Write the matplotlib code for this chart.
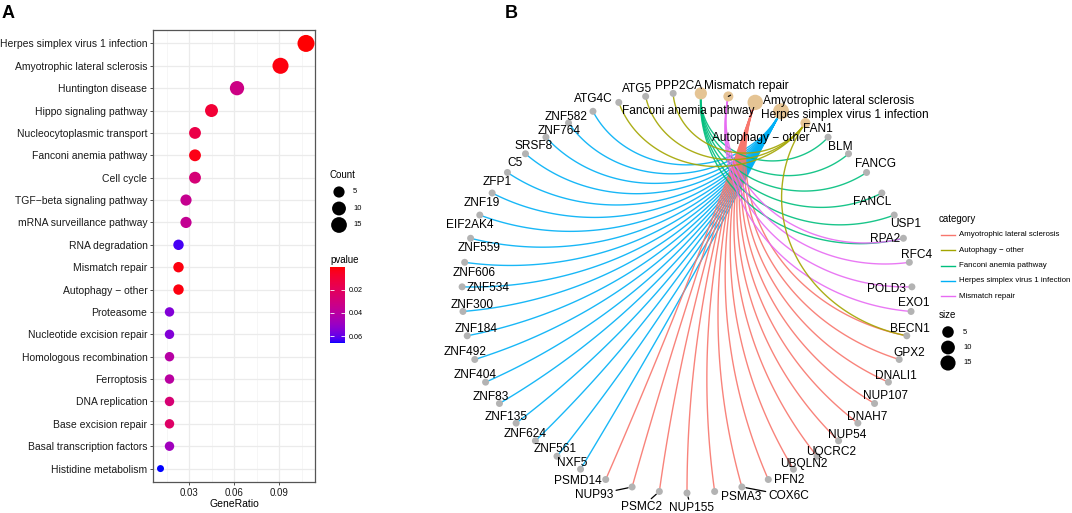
import numpy as np
import matplotlib
matplotlib.use('Agg')
import matplotlib.pyplot as plt
from matplotlib.colors import ListedColormap, Normalize
from matplotlib.cm import ScalarMappable

plt.rcParams['font.family'] = ['Liberation Sans', 'DejaVu Sans']

## panel A: KEGG enrichment dot plot
terms = ['Herpes simplex virus 1 infection', 'Amyotrophic lateral sclerosis', 'Huntington disease',
         'Hippo signaling pathway', 'Nucleocytoplasmic transport', 'Fanconi anemia pathway', 'Cell cycle',
         'TGF\u2212beta signaling pathway', 'mRNA surveillance pathway', 'RNA degradation', 'Mismatch repair',
         'Autophagy \u2212 other', 'Proteasome', 'Nucleotide excision repair', 'Homologous recombination',
         'Ferroptosis', 'DNA replication', 'Base excision repair', 'Basal transcription factors',
         'Histidine metabolism']
gene_ratio = [0.108, 0.091, 0.062, 0.045, 0.034, 0.034, 0.034, 0.028, 0.028, 0.023,
              0.023, 0.023, 0.017, 0.017, 0.017, 0.017, 0.017, 0.017, 0.017, 0.011]
counts = [19, 16, 11, 8, 6, 6, 6, 5, 5, 4, 4, 4, 3, 3, 3, 3, 3, 3, 3, 2]
pvalues = [0.0008, 0.002, 0.032, 0.010, 0.015, 0.003, 0.028, 0.035, 0.036, 0.063,
           0.002, 0.002, 0.055, 0.055, 0.041, 0.040, 0.027, 0.023, 0.048, 0.066]
count_legend = [5, 10, 15]
p_ticks = [0.02, 0.04, 0.06]
x_ticks = [0.03, 0.06, 0.09]

## panel B: gene-concept network
ring_categories = ['Fanconi anemia pathway', 'Mismatch repair', 'Amyotrophic lateral sclerosis',
                   'Herpes simplex virus 1 infection', 'Autophagy \u2212 other']
ring_genes = ['FAN1', 'BLM', 'FANCG', 'FANCL', 'USP1', 'RPA2', 'RFC4', 'POLD3', 'EXO1', 'BECN1', 'GPX2',
              'DNALI1', 'NUP107', 'DNAH7', 'NUP54', 'UQCRC2', 'UBQLN2', 'PFN2', 'COX6C', 'PSMA3', 'NUP155',
              'PSMC2', 'NUP93', 'PSMD14', 'NXF5', 'ZNF561', 'ZNF624', 'ZNF135', 'ZNF83', 'ZNF404', 'ZNF492',
              'ZNF184', 'ZNF300', 'ZNF534', 'ZNF606', 'ZNF559', 'EIF2AK4', 'ZNF19', 'ZFP1', 'C5', 'SRSF8',
              'ZNF764', 'ZNF582', 'ATG4C', 'ATG5', 'PPP2CA']
legend_categories = ['Amyotrophic lateral sclerosis', 'Autophagy \u2212 other', 'Fanconi anemia pathway',
                     'Herpes simplex virus 1 infection', 'Mismatch repair']
legend_colors = ['#F8766D', '#A3A500', '#00BF7D', '#00B0F6', '#E76BF3']
genes_herpes = ['NXF5', 'ZNF561', 'ZNF624', 'ZNF135', 'ZNF83', 'ZNF404', 'ZNF492', 'ZNF184', 'ZNF300',
                'ZNF534', 'ZNF606', 'ZNF559', 'EIF2AK4', 'ZNF19', 'ZFP1', 'C5', 'SRSF8', 'ZNF764', 'ZNF582']
genes_als = ['BECN1', 'GPX2', 'DNALI1', 'NUP107', 'DNAH7', 'NUP54', 'UQCRC2', 'UBQLN2', 'PFN2', 'COX6C',
             'PSMA3', 'NUP155', 'PSMC2', 'NUP93', 'PSMD14']
genes_fanconi = ['FAN1', 'BLM', 'FANCG', 'FANCL', 'USP1', 'RPA2']
genes_mismatch = ['RPA2', 'RFC4', 'POLD3', 'EXO1']
genes_autophagy = ['ATG4C', 'ATG5', 'PPP2CA', 'BECN1']
category_size = {'Herpes simplex virus 1 infection': 19, 'Amyotrophic lateral sclerosis': 16,
                 'Fanconi anemia pathway': 6, 'Mismatch repair': 4, 'Autophagy \u2212 other': 4}
size_legend = [5, 10, 15]

# label offsets in pixels (right, down) -- ggrepel did this in the original
lab_off = {
    'Fanconi anemia pathway': (-13, 17), 'Mismatch repair': (18, -11),
    'Amyotrophic lateral sclerosis': (83, -2), 'Herpes simplex virus 1 infection': (64, 3),
    'Autophagy \u2212 other': (-45, 14),
    'FAN1': (-10, -9), 'BLM': (-8, -8), 'FANCG': (9, -9), 'FANCL': (-10, 8), 'USP1': (11, 8),
    'RPA2': (-18, 0), 'RFC4': (7, -8), 'POLD3': (-25, 1), 'EXO1': (3, -9), 'BECN1': (3, -8),
    'GPX2': (10, -7), 'DNALI1': (7, -7), 'NUP107': (11, -8), 'DNAH7': (9, -7), 'NUP54': (9, -7),
    'UQCRC2': (14, -5), 'UBQLN2': (10, -6), 'PFN2': (21, 0), 'COX6C': (47, 8), 'PSMA3': (27, 5),
    'NUP155': (4, 14), 'PSMC2': (-18, 15), 'NUP93': (-38, 7), 'PSMD14': (-28, 1), 'NXF5': (-8, -7),
    'ZNF561': (-2, -8), 'ZNF624': (-10, -8), 'ZNF135': (-10, -7), 'ZNF83': (-9, -7), 'ZNF404': (-10, -8),
    'ZNF492': (-10, -8), 'ZNF184': (9, -8), 'ZNF300': (9, -7), 'ZNF534': (26, 0), 'ZNF606': (9, 10),
    'ZNF559': (9, 9), 'EIF2AK4': (-10, 9), 'ZNF19': (-10, 9), 'ZFP1': (-10, 9), 'C5': (-10, 8),
    'SRSF8': (-12, 8), 'ZNF764': (-9, 7), 'ZNF582': (-27, 5), 'ATG4C': (-25, -4), 'ATG5': (-9, -8),
    'PPP2CA': (5, -8)}
leader = ['Mismatch repair', 'COX6C', 'NUP155', 'PSMC2', 'NUP93']


# ggplot style red -> blue gradient, interpolated in CIELAB
WHITE = np.array([0.95047, 1.0, 1.08883])
M = np.array([[0.4124, 0.3576, 0.1805], [0.2126, 0.7152, 0.0722], [0.0193, 0.1192, 0.9505]])

def rgb2lab(rgb):
    c = np.where(rgb <= 0.04045, rgb / 12.92, ((rgb + 0.055) / 1.055) ** 2.4)
    xyz = M @ c / WHITE
    f = np.where(xyz > 0.008856, np.cbrt(xyz), 7.787 * xyz + 16 / 116)
    return np.array([116 * f[1] - 16, 500 * (f[0] - f[1]), 200 * (f[1] - f[2])])

def lab2rgb(lab):
    fy = (lab[0] + 16) / 116
    f = np.array([fy + lab[1] / 500, fy, fy - lab[2] / 200])
    xyz = np.where(f ** 3 > 0.008856, f ** 3, (f - 16 / 116) / 7.787) * WHITE
    c = np.linalg.solve(M, xyz)
    rgb = np.where(c <= 0.0031308, 12.92 * c, 1.055 * np.clip(c, 0, None) ** (1 / 2.4) - 0.055)
    return np.clip(rgb, 0, 1)

lab_r, lab_b = rgb2lab(np.array([1.0, 0, 0])), rgb2lab(np.array([0, 0, 1.0]))
cmap_p = ListedColormap([lab2rgb(lab_r + (lab_b - lab_r) * f) for f in np.linspace(0, 1, 256)])
norm_p = Normalize(vmin=0.0004, vmax=0.066)


def dot_d(c):
    # dot diameter in px (area scale like ggplot scale_size)
    return 7 + 10 * np.sqrt((np.asarray(c, float) - 2) / 17)

def node_d(c):
    return 10 + 6 * np.sqrt((np.asarray(c, float) - 4) / 15)


W, H = 1072, 513
fig = plt.figure(figsize=(W / 100, H / 100), dpi=100)

def px_axes(x0, y0, w, h):
    # small axes whose data units are pixels, y downwards (for the legends)
    ax = fig.add_axes([x0 / W, 1 - (y0 + h) / H, w / W, h / H])
    ax.set_xlim(0, w)
    ax.set_ylim(h, 0)
    ax.axis('off')
    return ax

# ---------------- A
axA = fig.add_axes([153 / W, 31 / H, 162 / W, 452 / H])
yy = np.arange(len(terms))[::-1]
axA.scatter(gene_ratio, yy, s=(dot_d(counts) * 0.72) ** 2, c=pvalues, cmap=cmap_p, norm=norm_p,
            edgecolors='none', zorder=3)
axA.set_xlim(0.006, 0.114)
axA.set_ylim(-0.6, len(terms) - 0.4)
axA.set_yticks(yy)
axA.set_yticklabels(terms, fontsize=7.5, color='#1a1a1a')
axA.set_xticks(x_ticks)
axA.set_xticklabels(['%.2f' % v for v in x_ticks], fontsize=7, color='#1a1a1a')
axA.set_xticks([0.015, 0.045, 0.075, 0.105], minor=True)
axA.tick_params(which='major', length=2.5, width=0.6, color='#333333', pad=1.5)
axA.tick_params(which='minor', length=0)
axA.grid(which='major', color='#EBEBEB', lw=0.9)
axA.grid(which='minor', axis='x', color='#F3F3F3', lw=0.5)
axA.set_axisbelow(True)
for sp in axA.spines.values():
    sp.set_color('#555555')
    sp.set_linewidth(0.9)
axA.set_xlabel('GeneRatio', fontsize=7.5, labelpad=1)

# Count legend
axL = px_axes(328, 165, 60, 70)
axL.text(2, 10, 'Count', fontsize=7, va='center', ha='left')
rows = 27 + 16.5 * np.arange(len(count_legend))
axL.scatter([11] * len(count_legend), rows, s=(dot_d(count_legend) * 0.72) ** 2, color='black',
            edgecolors='none', clip_on=False)
for r, c in zip(rows, count_legend):
    axL.text(25, r, str(c), fontsize=5.5, va='center', ha='left')

cax = fig.add_axes([330 / W, (H - 343) / H, 15 / W, 76 / H])
cb = fig.colorbar(ScalarMappable(norm=norm_p, cmap=cmap_p), cax=cax)
cb.outline.set_visible(False)
cax.invert_yaxis()
cb.set_ticks(p_ticks)
cb.set_ticklabels(['%.2f' % v for v in p_ticks])
cax.tick_params(axis='y', direction='in', color='white', length=3, width=0.6, left=True, right=True,
                labelsize=5.2, pad=3)
cax.set_title('pvalue', loc='left', fontsize=7, pad=3)

# ---------------- B
axB = fig.add_axes([462 / W, 20 / H, 450 / W, 400 / H])
axB.set_xlim(-1, 1)
axB.set_ylim(-1, 1)
axB.axis('off')

ring = ring_categories + ring_genes
theta = np.pi / 2 - (np.arange(len(ring)) + 0.5) * 2 * np.pi / len(ring)
ang = dict(zip(ring, theta))
pos = {name: np.array([np.cos(a), np.sin(a)]) for name, a in ang.items()}


def arc(a1, a2, n=90):
    # circular arc meeting the ring at right angles, bent towards the centre
    p1 = np.array([np.cos(a1), np.sin(a1)])
    p2 = np.array([np.cos(a2), np.sin(a2)])
    d = (a2 - a1 + np.pi) % (2 * np.pi) - np.pi
    h = abs(d) / 2
    if np.cos(h) < 0.01:
        s = np.linspace(0, 1, n)[:, None]
        return p1 * (1 - s) + p2 * s
    m = a1 + d / 2
    c = np.array([np.cos(m), np.sin(m)]) / np.cos(h)
    r = np.tan(h)
    f1 = np.arctan2(*(p1 - c)[::-1])
    f2 = np.arctan2(*(p2 - c)[::-1])
    df = (f2 - f1 + np.pi) % (2 * np.pi) - np.pi
    f = f1 + df * np.linspace(0, 1, n)
    return np.column_stack([c[0] + r * np.cos(f), c[1] + r * np.sin(f)])


edge_sets = [('Herpes simplex virus 1 infection', genes_herpes, '#00B0F6'),
             ('Amyotrophic lateral sclerosis', genes_als, '#F8766D'),
             ('Fanconi anemia pathway', genes_fanconi, '#00BF7D'),
             ('Mismatch repair', genes_mismatch, '#E76BF3'),
             ('Autophagy \u2212 other', genes_autophagy, '#A3A500')]
for cat, genes, col in edge_sets:
    for g in genes:
        pts = arc(ang[cat], ang[g])
        axB.plot(pts[:, 0], pts[:, 1], color=col, lw=1.0, alpha=0.9, zorder=1,
                 solid_capstyle='butt', clip_on=False)

gx = [pos[g][0] for g in ring_genes]
gy = [pos[g][1] for g in ring_genes]
axB.scatter(gx, gy, s=(7 * 0.72) ** 2, color='#B3B3B3', edgecolors='none', zorder=3, clip_on=False)
cx = [pos[c][0] for c in ring_categories]
cy = [pos[c][1] for c in ring_categories]
axB.scatter(cx, cy, s=(node_d([category_size[c] for c in ring_categories]) * 0.72) ** 2,
            color='#E5C494', edgecolors='none', zorder=3, clip_on=False)

for name in ring:
    dx, dy = lab_off[name]
    kw = {}
    if name in leader:
        kw['arrowprops'] = dict(arrowstyle='-', color='black', lw=0.9, shrinkA=0, shrinkB=3)
    axB.annotate(name, pos[name], xytext=(dx, -dy - 4), textcoords='offset pixels',
                 ha='center', va='baseline', fontsize=8.6, color='black', zorder=4,
                 annotation_clip=False, **kw)

# category legend
axC = px_axes(937, 208, 135, 95)
axC.text(2, 11, 'category', fontsize=7, va='center', ha='left')
rows = 27 + 15.25 * np.arange(len(legend_categories))
for r, lab, col in zip(rows, legend_categories, legend_colors):
    axC.plot([4, 18], [r, r], color=col, lw=1.0)
    axC.text(22, r, lab, fontsize=5.7, va='center', ha='left')

# size legend
axS = px_axes(937, 305, 60, 70)
axS.text(2, 10, 'size', fontsize=7, va='center', ha='left')
rows = 27 + 15.5 * np.arange(len(size_legend))
axS.scatter([11] * len(size_legend), rows, s=(node_d(size_legend) * 0.72) ** 2, color='black',
            edgecolors='none', clip_on=False)
for r, c in zip(rows, size_legend):
    axS.text(26, r, str(c), fontsize=5.5, va='center', ha='left')

fig.text(2 / W, 1 - 5 / H, 'A', fontsize=13, fontweight='bold', va='top', ha='left')
fig.text(505 / W, 1 - 5 / H, 'B', fontsize=13, fontweight='bold', va='top', ha='left')

fig.savefig('out.png', dpi=100)
